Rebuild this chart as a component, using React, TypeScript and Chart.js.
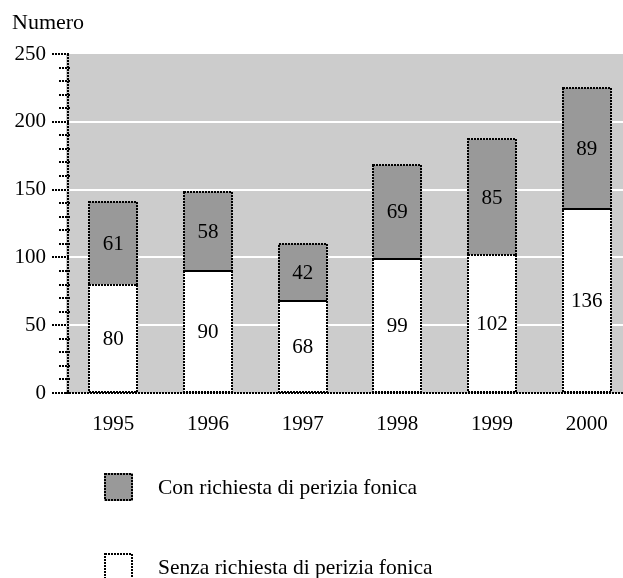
import React, { useEffect, useRef } from "react";
import { Chart, registerables } from "chart.js";

Chart.register(...registerables);

const years = ["1995", "1996", "1997", "1998", "1999", "2000"];
const senzaValues = [80, 90, 68, 99, 102, 136];
const conValues = [61, 58, 42, 69, 85, 89];
const conLabel = "Con richiesta di perizia fonica";
const senzaLabel = "Senza richiesta di perizia fonica";
const yTitle = "Numero";
const yMax = 250;
const yStep = 50;
const yMinorStep = 10;

const FONT = "'Liberation Serif', 'Times New Roman', serif";
const GRAY_BG = "#cccccc";
const BAR_GRAY = "#999999";
const DASH = [2, 1];

const decorPlugin = {
  id: "decor",
  beforeDraw(chart: any) {
    const { ctx, chartArea } = chart;
    ctx.save();
    ctx.fillStyle = GRAY_BG;
    ctx.fillRect(chartArea.left, chartArea.top, chartArea.right - chartArea.left, chartArea.bottom - chartArea.top);
    ctx.restore();
  },
  afterDatasetsDraw(chart: any) {
    const { ctx, chartArea, scales } = chart;
    const y = scales.y;
    ctx.save();
    // dashed bar borders
    chart.data.datasets.forEach((ds: any, di: number) => {
      const meta = chart.getDatasetMeta(di);
      meta.data.forEach((bar: any) => {
        const p = bar.getProps(["x", "y", "base", "width"], true);
        const l = Math.round(p.x - p.width / 2);
        const r = Math.round(p.x + p.width / 2);
        const top = Math.round(Math.min(p.y, p.base));
        const bot = Math.round(Math.max(p.y, p.base));
        ctx.strokeStyle = "#000";
        ctx.lineWidth = 2;
        ctx.setLineDash(DASH);
        ctx.strokeRect(l, top, r - l, bot - top);
        ctx.setLineDash([]);
      });
    });
    // value labels
    chart.data.datasets.forEach((ds: any, di: number) => {
      const meta = chart.getDatasetMeta(di);
      meta.data.forEach((bar: any, i: number) => {
        const p = bar.getProps(["x", "y", "base"], true);
        ctx.fillStyle = "#000";
        ctx.font = `21px ${FONT}`;
        ctx.textAlign = "center";
        ctx.textBaseline = "middle";
        ctx.fillText(String(ds.data[i]), p.x, (p.y + p.base) / 2 + 1);
      });
    });
    // axes
    const ax = chartArea.left + 2;
    ctx.strokeStyle = "#000";
    ctx.lineWidth = 2;
    ctx.setLineDash(DASH);
    ctx.beginPath();
    ctx.moveTo(ax, chartArea.top);
    ctx.lineTo(ax, chartArea.bottom);
    ctx.moveTo(chartArea.left, chartArea.bottom);
    ctx.lineTo(chartArea.right, chartArea.bottom);
    ctx.stroke();
    // ticks
    for (let v = 0; v <= yMax; v += yMinorStep) {
      const py = Math.round(y.getPixelForValue(v));
      ctx.beginPath();
      if (v % yStep === 0) {
        ctx.moveTo(ax - 16, py);
        ctx.lineTo(ax + 2, py);
      } else {
        ctx.moveTo(ax - 9, py);
        ctx.lineTo(ax + 3, py);
      }
      ctx.stroke();
    }
    ctx.setLineDash([]);
    // y title
    ctx.fillStyle = "#000";
    ctx.font = `22px ${FONT}`;
    ctx.textAlign = "left";
    ctx.textBaseline = "alphabetic";
    ctx.fillText(yTitle, 12, 29);
    // legend
    const items = [
      { label: chart.data.datasets[1].label, color: chart.data.datasets[1].backgroundColor },
      { label: chart.data.datasets[0].label, color: chart.data.datasets[0].backgroundColor },
    ];
    items.forEach((it, k) => {
      const bx = 104;
      const by = 473 + k * 80;
      ctx.fillStyle = it.color;
      ctx.fillRect(bx, by, 29, 28);
      ctx.strokeStyle = "#000";
      ctx.lineWidth = 2;
      ctx.setLineDash(DASH);
      ctx.strokeRect(bx + 1, by + 1, 27, 26);
      ctx.setLineDash([]);
      ctx.fillStyle = "#000";
      ctx.font = `21.5px ${FONT}`;
      ctx.textAlign = "left";
      ctx.textBaseline = "middle";
      ctx.fillText(it.label, 158, by + 15);
    });
    ctx.restore();
  },
};

export default function App() {
  const ref = useRef<HTMLCanvasElement>(null);
  useEffect(() => {
    if (!ref.current) return;
    const chart = new Chart(ref.current, {
      type: "bar",
      data: {
        labels: years,
        datasets: [
          { label: senzaLabel, data: senzaValues, backgroundColor: "#ffffff", borderWidth: 0 },
          { label: conLabel, data: conValues, backgroundColor: BAR_GRAY, borderWidth: 0 },
        ],
      },
      options: {
        responsive: false,
        animation: false,
        devicePixelRatio: 1,
        layout: { padding: { left: 0, right: 6, top: 54, bottom: 145 } },
        plugins: { legend: { display: false }, tooltip: { enabled: false } },
        datasets: { bar: { categoryPercentage: 1, barPercentage: 0.51 } },
        scales: {
          x: {
            stacked: true,
            grid: { display: false },
            border: { display: false },
            ticks: { font: { family: FONT, size: 21 }, color: "#000", padding: 11 },
            afterFit: (s: any) => { s.height = 40; },
          },
          y: {
            stacked: true,
            min: 0,
            max: yMax,
            grid: {
              drawTicks: false,
              lineWidth: 2,
              color: (c: any) => (c.tick && c.tick.value > 0 && c.tick.value < yMax ? "#ffffff" : "rgba(0,0,0,0)"),
            },
            border: { display: false },
            ticks: { stepSize: yStep, font: { family: FONT, size: 21 }, color: "#000", padding: 20 },
            afterFit: (s: any) => { s.width = 66; },
          },
        },
      },
      plugins: [decorPlugin],
    });
    return () => chart.destroy();
  }, []);
  return (
    <div style={{ position: "fixed", left: 0, top: 0, width: 623, height: 578, overflow: "hidden", background: "#fff" }}>
      <canvas ref={ref} width={640} height={578} style={{ display: "block", width: 640, height: 578 }} />
    </div>
  );
}
